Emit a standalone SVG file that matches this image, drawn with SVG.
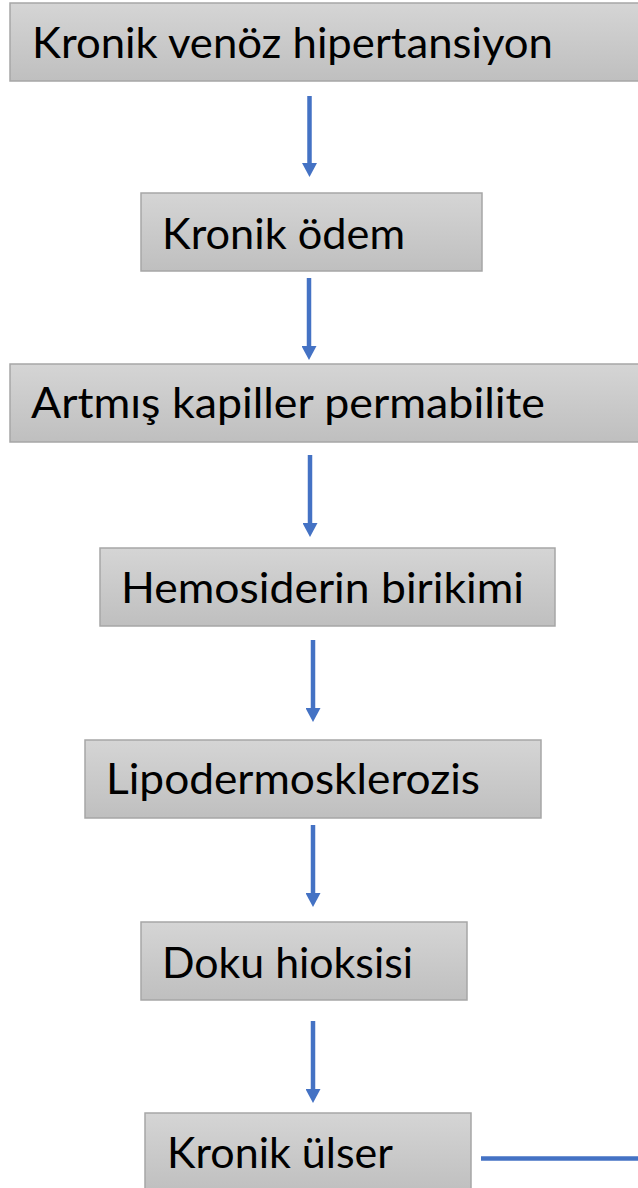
<svg xmlns="http://www.w3.org/2000/svg" width="638" height="1188" viewBox="0 0 638 1188">
<style>
.box{fill:url(#g);stroke:#a6a6a6;stroke-width:1.5}
.t{font-family:Lato,"Open Sans","Liberation Sans",sans-serif;font-size:43px;fill:#000}
.c{stroke:#4472c4;stroke-width:4.5;fill:none}
</style>
<defs>
<linearGradient id="g" x1="0" y1="0" x2="0" y2="1">
<stop offset="0" stop-color="#d5d5d5"/>
<stop offset="1" stop-color="#bfbfbf"/>
</linearGradient>
<marker id="ah" viewBox="0 -7.5 14 15" refX="0" refY="0" markerWidth="14" markerHeight="15" markerUnits="userSpaceOnUse" orient="auto">
<path d="M0,-7.5 L14,0 L0,7.5 z" fill="#4472c4"/>
</marker>
</defs>
<rect width="638" height="1188" fill="#fff"/>
<g id="connectors">
<line class="c" x1="309.5" y1="96" x2="309.5" y2="163" marker-end="url(#ah)"/>
<line class="c" x1="309" y1="278" x2="309" y2="346" marker-end="url(#ah)"/>
<line class="c" x1="310" y1="455" x2="310" y2="523" marker-end="url(#ah)"/>
<line class="c" x1="313" y1="640" x2="313" y2="708" marker-end="url(#ah)"/>
<line class="c" x1="313" y1="825" x2="313" y2="893" marker-end="url(#ah)"/>
<line class="c" x1="313" y1="1021" x2="313" y2="1089" marker-end="url(#ah)"/>
<line class="c" x1="481" y1="1158.5" x2="640" y2="1158.5"/>
</g>
<g id="n1"><rect class="box" x="10" y="3" width="640" height="78"/><text class="t" x="32" y="58" textLength="521" lengthAdjust="spacingAndGlyphs">Kronik venöz hipertansiyon</text></g>
<g id="n2"><rect class="box" x="141" y="193" width="341" height="78"/><text class="t" x="162" y="249" textLength="243" lengthAdjust="spacingAndGlyphs">Kronik ödem</text></g>
<g id="n3"><rect class="box" x="10" y="364" width="640" height="78"/><text class="t" x="31" y="418" textLength="514" lengthAdjust="spacingAndGlyphs">Artmış kapiller permabilite</text></g>
<g id="n4"><rect class="box" x="100" y="548" width="455" height="78"/><text class="t" x="121" y="603" textLength="403" lengthAdjust="spacingAndGlyphs">Hemosiderin birikimi</text></g>
<g id="n5"><rect class="box" x="85" y="740" width="456" height="78"/><text class="t" x="106" y="794" textLength="374" lengthAdjust="spacingAndGlyphs">Lipodermosklerozis</text></g>
<g id="n6"><rect class="box" x="141" y="922" width="326" height="78"/><text class="t" x="162" y="978" textLength="251" lengthAdjust="spacingAndGlyphs">Doku hioksisi</text></g>
<g id="n7"><rect class="box" x="145" y="1113" width="326" height="80"/><text class="t" x="167" y="1168" textLength="226" lengthAdjust="spacingAndGlyphs">Kronik ülser</text></g>
</svg>
